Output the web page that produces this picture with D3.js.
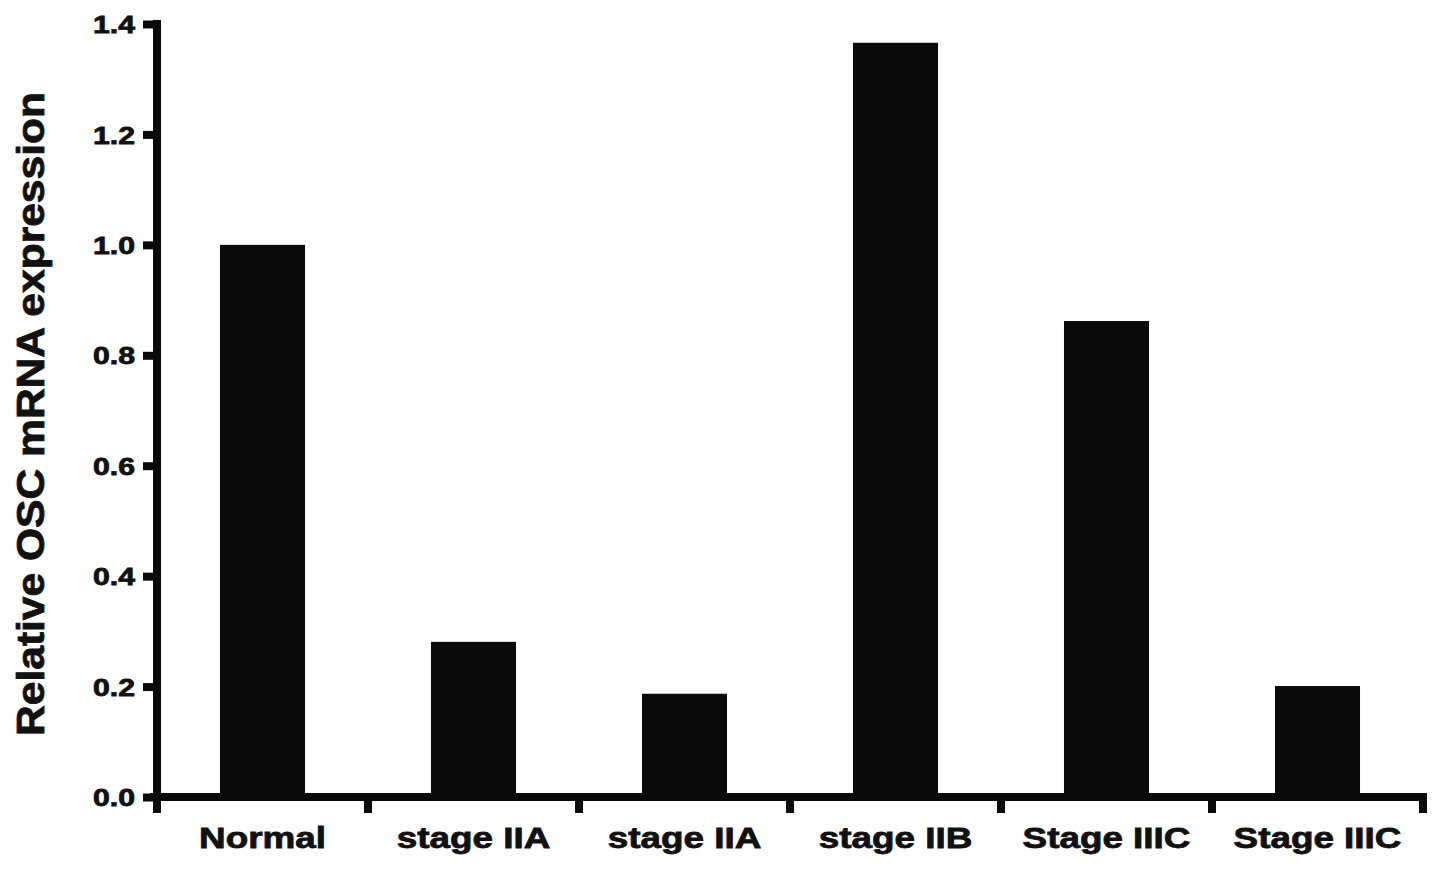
<!DOCTYPE html>
<html>
<head>
<meta charset="utf-8">
<script src="https://cdn.jsdelivr.net/npm/d3@7"></script>
<style>
  body { margin: 0; background: #fff; }
  svg text { font-family: "Liberation Sans", Arial, sans-serif; font-weight: bold; fill: #111; stroke: #111; stroke-width: 0.8px; }
</style>
</head>
<body>
<svg id="chart" width="1441" height="870"></svg>
<script>
// data
var categories = ["Normal", "stage IIA", "stage IIA", "stage IIB", "Stage IIIC", "Stage IIIC"];
var values = [1.0, 0.281, 0.187, 1.366, 0.862, 0.201];
var yTicks = [0, 0.2, 0.4, 0.6, 0.8, 1.0, 1.2, 1.4];
var yTitle = "Relative OSC mRNA expression";

var svg = d3.select("#chart");
var axisW = 8;

var y = d3.scaleLinear().domain([0, 1.4]).range([797, 24]);
var x = d3.scaleBand()
  .domain(d3.range(categories.length))
  .range([157, 1423])
  .paddingInner(0.597)
  .paddingOuter(0.2985);

// stretch text horizontally, the figure's lettering is wide
function stretch(sel, k) {
  sel.each(function() {
    var w = this.getComputedTextLength();
    d3.select(this).attr("textLength", w * k).attr("lengthAdjust", "spacingAndGlyphs");
  });
}

// bars
svg.append("g").selectAll("rect")
  .data(values)
  .enter()
  .append("rect")
  .attr("x", function(d, i) { return x(i); })
  .attr("y", function(d) { return y(d); })
  .attr("width", x.bandwidth())
  .attr("height", function(d) { return y(0) - y(d); })
  .attr("fill", "#0a0a0a");

// y axis
var yAxis = svg.append("g")
  .attr("transform", "translate(157,0)")
  .call(d3.axisLeft(y).tickValues(yTicks).tickFormat(d3.format(".1f")).tickSize(14).tickPadding(8).tickSizeOuter(0));
yAxis.select(".domain").remove();
yAxis.selectAll(".tick line").attr("stroke", "#0a0a0a").attr("stroke-width", axisW);
yAxis.selectAll(".tick text").attr("font-size", 24).attr("fill", "#111").attr("dy", "0.36em");
stretch(yAxis.selectAll(".tick text"), 1.26);

svg.append("line")
  .attr("x1", 157).attr("x2", 157)
  .attr("y1", y(1.4) - axisW / 2).attr("y2", 813)
  .attr("stroke", "#0a0a0a").attr("stroke-width", axisW);

// x axis
var step = x.step();
var bounds = d3.range(categories.length + 1).map(function(i) { return x.range()[0] + i * step; });

svg.append("line")
  .attr("x1", 150).attr("x2", bounds[bounds.length - 1] + axisW / 2)
  .attr("y1", y(0)).attr("y2", y(0))
  .attr("stroke", "#0a0a0a").attr("stroke-width", axisW);

svg.append("g").selectAll("line")
  .data(bounds.slice(1))
  .enter()
  .append("line")
  .attr("x1", function(d) { return d; })
  .attr("x2", function(d) { return d; })
  .attr("y1", y(0))
  .attr("y2", 813)
  .attr("stroke", "#0a0a0a").attr("stroke-width", axisW);

var xl = svg.append("g").selectAll("text")
  .data(categories)
  .enter()
  .append("text")
  .attr("x", function(d, i) { return x(i) + x.bandwidth() / 2; })
  .attr("y", 848)
  .attr("text-anchor", "middle")
  .attr("font-size", 29)
  .text(function(d) { return d; });
stretch(xl, 1.27);

// y title
svg.append("text")
  .attr("transform", "translate(44,414) rotate(-90)")
  .attr("text-anchor", "middle")
  .attr("font-size", 38)
  .attr("textLength", 644)
  .attr("lengthAdjust", "spacingAndGlyphs")
  .text(yTitle);
</script>
</body>
</html>
